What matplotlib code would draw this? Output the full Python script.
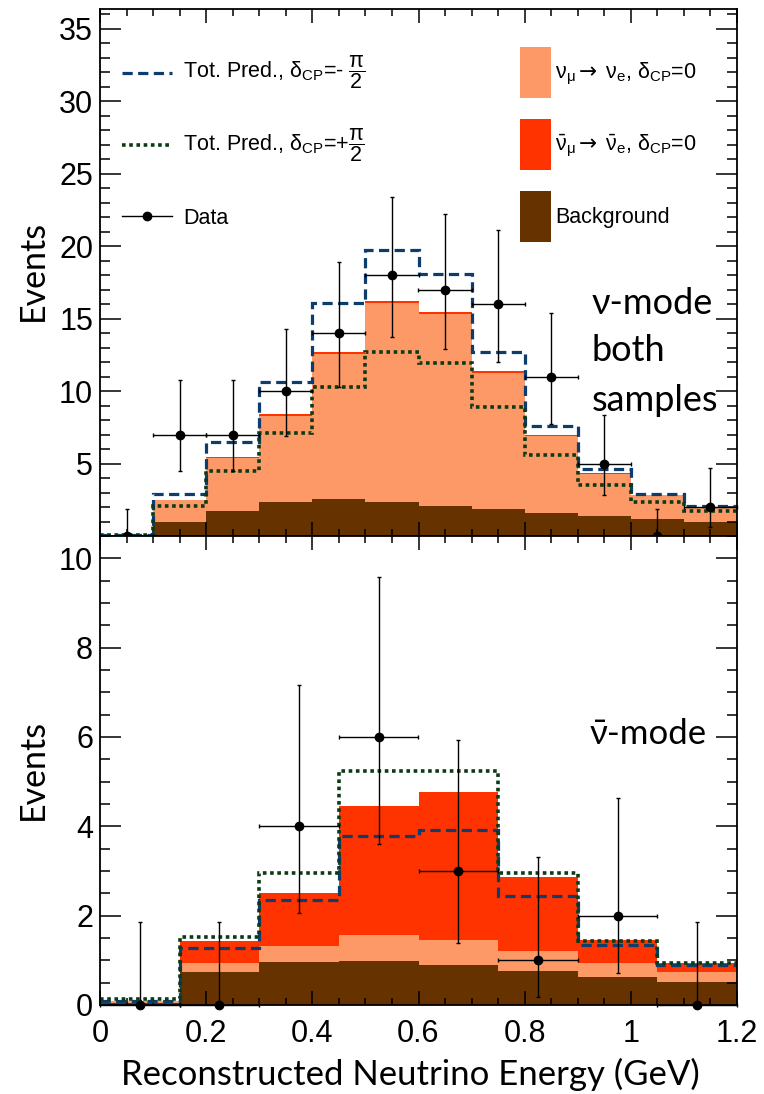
import numpy as np
import matplotlib.pyplot as plt
from matplotlib.patches import Rectangle
from matplotlib.lines import Line2D
from matplotlib.ticker import MultipleLocator

plt.rcParams['font.family'] = ['Liberation Sans', 'DejaVu Sans']
plt.rcParams['mathtext.fontset'] = 'custom'
plt.rcParams['mathtext.rm'] = 'Liberation Sans'
plt.rcParams['mathtext.it'] = 'Liberation Sans'
plt.rcParams['mathtext.sf'] = 'DejaVu Sans'
plt.rcParams['mathtext.default'] = 'rm'

# ---- nu-mode (both samples), 0.1 GeV bins ----
edges_nu = np.linspace(0, 1.2, 13)
bkg_nu = [0.05, 1.0, 1.7, 2.35, 2.55, 2.35, 2.05, 1.85, 1.6, 1.4, 1.15, 1.0]
nue_nu = [0.03, 1.45, 3.67, 5.95, 10.03, 13.7, 13.25, 9.38, 5.3, 2.87, 1.65, 0.96]
nuebar_nu = [0.0, 0.05, 0.08, 0.1, 0.12, 0.15, 0.15, 0.12, 0.1, 0.08, 0.05, 0.04]
predm_nu = [0.05, 2.9, 6.5, 10.65, 16.1, 19.7, 18.05, 12.7, 7.6, 4.6, 2.9, 2.05]
predp_nu = [0.05, 2.05, 4.45, 7.1, 10.3, 12.7, 11.95, 8.9, 5.6, 3.5, 2.35, 1.7]
data_nu = [0, 7, 7, 10, 14, 18, 17, 16, 11, 5, 0, 2]
errlo_nu = [0, 2.54, 2.54, 3.1, 3.7, 4.26, 4.1, 4.0, 3.3, 2.16, 0, 1.35]
errhi_nu = [1.84, 3.77, 3.77, 4.3, 4.87, 5.35, 5.2, 5.1, 4.4, 3.38, 1.84, 2.7]

# ---- anti-nu mode, 0.15 GeV bins ----
edges_nub = np.linspace(0, 1.2, 9)
bkg_nub = [0.05, 0.73, 0.97, 0.99, 0.89, 0.77, 0.63, 0.52]
nue_nub = [0.03, 0.2, 0.36, 0.57, 0.57, 0.44, 0.32, 0.21]
nuebar_nub = [0.02, 0.5, 1.18, 2.9, 3.3, 1.65, 0.51, 0.22]
predm_nub = [0.1, 1.27, 2.35, 3.79, 3.91, 2.43, 1.34, 0.89]
predp_nub = [0.13, 1.52, 2.96, 5.25, 5.23, 2.96, 1.44, 0.95]
data_nub = [0, 0, 4, 6, 3, 1, 2, 0]
errlo_nub = [0, 0, 1.93, 2.39, 1.62, 0.82, 1.29, 0]
errhi_nub = [1.86, 1.86, 3.16, 3.59, 2.93, 2.31, 2.64, 1.86]

c_bkg = '#663300'
c_nue = '#fd9966'
c_nuebar = '#ff3300'
c_m = '#0d3c6e'
c_p = '#0b3a14'
ls_m = (0, (3.2, 1.7))
ls_p = (0, (1.0, 1.0))

lab_m = r'Tot. Pred., $\delta_{CP}$=- $\dfrac{\pi}{2}$'
lab_p = r'Tot. Pred., $\delta_{CP}$=+$\dfrac{\pi}{2}$'
lab_nue = r'$\nu_{\mu}\mathsf{\rightarrow}\;\nu_{e}$, $\delta_{CP}$=0'
lab_nuebar = r'$\bar{\nu}_{\mu}\mathsf{\rightarrow}\;\bar{\nu}_{e}$, $\delta_{CP}$=0'

fig = plt.figure(figsize=(7.64, 10.94), dpi=100)
ax1 = fig.add_axes([100/764, 558/1094, 637/764, 527/1094])
ax2 = fig.add_axes([100/764, 89/1094, 637/764, 469/1094])


def draw_panel(ax, edges, bkg, nue, nuebar, predm, predp, data, errlo, errhi):
    bkg = np.array(bkg)
    lvl1 = bkg + np.array(nue)
    lvl2 = lvl1 + np.array(nuebar)
    ax.stairs(lvl2, edges, fill=True, color=c_nuebar, lw=0)
    ax.stairs(lvl1, edges, fill=True, color=c_nue, lw=0)
    ax.stairs(bkg, edges, fill=True, color=c_bkg, lw=0)
    ax.stairs(predm, edges, baseline=None, color=c_m, lw=2.3, ls=ls_m, zorder=2)
    ax.stairs(predp, edges, baseline=None, color=c_p, lw=2.6, ls=ls_p, zorder=2)
    centers = 0.5 * (edges[1:] + edges[:-1])
    half = 0.5 * np.diff(edges)
    ax.errorbar(centers, data, xerr=half, yerr=[errlo, errhi], fmt='o',
                color='black', ms=6, elinewidth=1, capsize=1.5, capthick=1,
                zorder=4, clip_on=False)
    ax.set_xlim(0, 1.2)
    for sp in ax.spines.values():
        sp.set_linewidth(1.3)
    ax.xaxis.set_major_locator(MultipleLocator(0.2))
    ax.xaxis.set_minor_locator(MultipleLocator(0.05))
    ax.tick_params(which='both', direction='in', top=True, right=True,
                   width=1.1, labelsize=22, pad=5)
    ax.tick_params(axis='y', which='major', length=15)
    ax.tick_params(axis='y', which='minor', length=7)
    ax.tick_params(axis='x', which='major', length=10, pad=10)
    ax.tick_params(axis='x', which='minor', length=5)


draw_panel(ax1, edges_nu, bkg_nu, nue_nu, nuebar_nu, predm_nu, predp_nu,
           data_nu, errlo_nu, errhi_nu)
draw_panel(ax2, edges_nub, bkg_nub, nue_nub, nuebar_nub, predm_nub, predp_nub,
           data_nub, errlo_nub, errhi_nub)

ax1.set_ylim(0, 36.35)
ax1.yaxis.set_minor_locator(MultipleLocator(1))
ax1.set_yticks([5, 10, 15, 20, 25, 30, 35])
ax1.tick_params(axis='x', labelbottom=False)

ax2.set_ylim(0, 10.5)
ax2.yaxis.set_major_locator(MultipleLocator(2))
ax2.yaxis.set_minor_locator(MultipleLocator(0.5))
ax2.set_xticks([0, 0.2, 0.4, 0.6, 0.8, 1.0, 1.2], ['0', '0.2', '0.4', '0.6', '0.8', '1', '1.2'])

calibri = ['Lato', 'Open Sans', 'DejaVu Sans']
for ax in (ax1, ax2):
    ax.set_ylabel('Events', family=calibri, fontsize=24.5)
    ax.yaxis.set_label_coords(-0.08, 0.503)
ax2.set_xlabel('Reconstructed Neutrino Energy (GeV)', family=calibri, fontsize=25)
ax2.xaxis.set_label_coords(0.487, -0.112)
ax2.xaxis.label.set_va('top')

for txt, y in zip(['ν-mode', 'both', 'samples'], [0.4213, 0.332, 0.237]):
    ax1.text(0.772, y, txt, transform=ax1.transAxes, family=calibri,
             fontsize=26, va='baseline', ha='left')
ax2.text(0.768, 0.556, 'ν\u0304-mode', transform=ax2.transAxes,
         family=calibri, fontsize=25, va='baseline', ha='left')

# legend, ROOT style (drawn entry by entry in axes coordinates)
tr = ax1.transAxes
leg_fs = 15.5
row_y = [0.8786, 0.742, 0.607]
base_y = [0.871, 0.7324, 0.592]
ax1.add_line(Line2D([0.0345, 0.113], [row_y[0]] * 2, transform=tr, color=c_m, lw=2.3, ls=ls_m))
ax1.add_line(Line2D([0.0345, 0.113], [row_y[1]] * 2, transform=tr, color=c_p, lw=2.6, ls=ls_p))
ax1.add_line(Line2D([0.0345, 0.113], [row_y[2]] * 2, transform=tr, color='black', lw=1))
ax1.add_line(Line2D([0.074], [row_y[2]], transform=tr, color='black', marker='o', ms=6))
for lab, y in zip([lab_m, lab_p, 'Data'], base_y):
    ax1.text(0.1303, y, lab, transform=tr, fontsize=leg_fs, va='baseline', ha='left')

box_h = 0.0968
for col, y in zip([c_nue, c_nuebar, c_bkg], row_y):
    ax1.add_patch(Rectangle((0.659, y - box_h / 2), 0.049, box_h, transform=tr,
                            facecolor=col, edgecolor='none'))
for lab, y in zip([lab_nue, lab_nuebar, 'Background'], [0.869, 0.7324, 0.594]):
    ax1.text(0.714, y, lab, transform=tr, fontsize=leg_fs, va='baseline', ha='left')

fig.savefig('out.png', dpi=100)
